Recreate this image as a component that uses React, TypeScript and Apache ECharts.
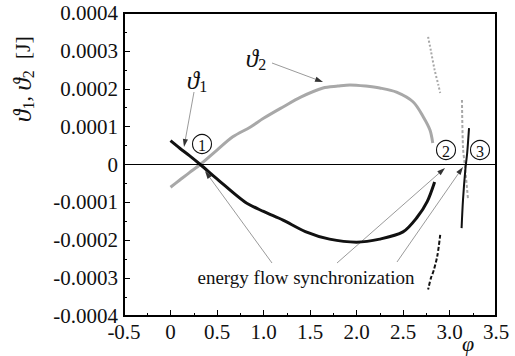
import React, { useEffect, useRef } from "react";
import * as echarts from "echarts";

// ϑ2 main branch (grey)
const phi2 = [0, 0.1, 0.2, 0.32, 0.5, 0.67, 0.86, 1.0, 1.21, 1.4, 1.64, 1.8, 1.93, 2.1, 2.25, 2.43, 2.61, 2.72, 2.79, 2.82];
const theta2 = [-0.00006, -0.000041, -0.000022, 0, 0.000038, 0.000073, 0.000099, 0.000122, 0.000152, 0.000178, 0.000202, 0.000207, 0.00021, 0.000207, 0.000202, 0.000191, 0.000165, 0.000125, 0.000091, 0.000057];
// ϑ1 main branch (black)
const phi1 = [0, 0.1, 0.2, 0.32, 0.5, 0.8, 1.0, 1.21, 1.45, 1.71, 2.0, 2.25, 2.5, 2.65, 2.76, 2.84];
const theta1 = [0.000063, 0.000043, 0.000024, 0, -0.000038, -0.000099, -0.000124, -0.000147, -0.000177, -0.000197, -0.000205, -0.000197, -0.000178, -0.00014, -0.000098, -0.000046];
// side branches
const phi2Upper = [2.77, 2.8, 2.84, 2.88, 2.9];
const theta2Upper = [0.000337, 0.0003, 0.00025, 0.00021, 0.000189];
const phi1Lower = [2.9, 2.87, 2.83, 2.8, 2.77];
const theta1Lower = [-0.000186, -0.00024, -0.00028, -0.0003, -0.00033];
const phi2Vert = [3.134, 3.145, 3.167, 3.2];
const theta2Vert = [0.00017, 0.000046, -0.000007, -0.000094];
const phi1Vert = [3.21, 3.19, 3.17, 3.145, 3.13];
const theta1Vert = [0.000096, 0.00003, -0.000014, -0.000094, -0.000168];

const xTicks = { min: -0.5, max: 3.5, interval: 0.5 };
const yTicks = { min: -0.0004, max: 0.0004, interval: 0.0001 };

const GREY = "#a8a8a8";
const BLACK = "#111111";
const ARROW = "#808080";
const SERIF = "Liberation Serif";

const pairs = (xs: number[], ys: number[]) => xs.map((x, i) => [x, ys[i]]);

function arrow(x1: number, y1: number, x2: number, y2: number, color = ARROW) {
  const dx = x2 - x1, dy = y2 - y1;
  const len = Math.sqrt(dx * dx + dy * dy);
  const ux = dx / len, uy = dy / len;
  const hl = 8, hw = 2.6;
  const bx = x2 - ux * hl, by = y2 - uy * hl;
  return [
    { type: "line", shape: { x1, y1, x2: bx, y2: by }, style: { stroke: color, lineWidth: 0.8 }, silent: true },
    {
      type: "polygon",
      shape: { points: [[x2, y2], [bx - uy * hw, by + ux * hw], [bx + uy * hw, by - ux * hw]] },
      style: { fill: "#333", stroke: "none" },
      silent: true,
    },
  ];
}

function circled(cx: number, cy: number, n: string) {
  return [
    { type: "circle", shape: { cx, cy, r: 9.5 }, style: { fill: "#fff", stroke: "#111", lineWidth: 1.1 }, silent: true },
    {
      type: "text",
      x: cx,
      y: cy + 1,
      style: { text: n, font: `16px ${SERIF}`, fill: "#111", align: "center", verticalAlign: "middle" },
      silent: true,
    },
  ];
}

const symRich = {
  v: { fontFamily: SERIF, fontStyle: "italic", fontSize: 25, fill: "#111" },
  s: { fontFamily: SERIF, fontSize: 16, fill: "#111", padding: [12, 0, 0, 0] },
  n: { fontFamily: SERIF, fontSize: 22, fill: "#111" },
};

export default function App() {
  const ref = useRef<HTMLDivElement>(null);
  useEffect(() => {
    if (!ref.current) return;
    const chart = echarts.init(ref.current, null, { renderer: "svg" });
    const option: any = {
      animation: false,
      backgroundColor: "#fff",
      grid: {
        left: 124,
        top: 13,
        right: 19,
        bottom: 40,
        show: true,
        borderColor: "#000",
        borderWidth: 2,
        outerBoundsMode: "none",
        containLabel: false,
      },
      xAxis: {
        type: "value",
        ...xTicks,
        axisLine: { show: true, onZero: false, lineStyle: { color: "#000", width: 2 } },
        axisTick: { show: true, inside: true, length: 6, lineStyle: { color: "#000" } },
        minorTick: { show: true, splitNumber: 2, length: 3, lineStyle: { color: "#000" } },
        splitLine: { show: false },
        axisLabel: {
          fontFamily: SERIF,
          fontSize: 21,
          lineHeight: 16,
          color: "#111",
          margin: 8,
          formatter: (v: number) => (Math.abs(v) < 1e-9 ? "0" : v.toFixed(1)),
        },
      },
      yAxis: {
        type: "value",
        ...yTicks,
        axisLine: { show: true, onZero: false, lineStyle: { color: "#000", width: 2 } },
        axisTick: { show: true, inside: true, length: 6, lineStyle: { color: "#000" } },
        minorTick: { show: true, splitNumber: 2, length: 3, lineStyle: { color: "#000" } },
        splitLine: { show: false },
        axisLabel: {
          fontFamily: SERIF,
          fontSize: 21,
          lineHeight: 16,
          color: "#111",
          margin: 6,
          formatter: (v: number) => {
            const r = Math.round(v * 1e4) / 1e4;
            return r === 0 ? "0" : r.toFixed(4);
          },
        },
      },
      series: [
        {
          type: "line",
          name: "ϑ2",
          data: pairs(phi2, theta2),
          showSymbol: false,
          smooth: 0.3,
          lineStyle: { color: GREY, width: 3 },
          z: 2,
          markLine: {
            silent: true,
            symbol: "none",
            label: { show: false },
            lineStyle: { color: "#000", width: 1, type: "solid" },
            data: [{ yAxis: 0 }],
          },
        },
        {
          type: "line",
          name: "ϑ1",
          data: pairs(phi1, theta1),
          showSymbol: false,
          smooth: 0.3,
          lineStyle: { color: BLACK, width: 3 },
          z: 3,
        },
        {
          type: "line",
          data: pairs(phi2Upper, theta2Upper),
          showSymbol: false,
          smooth: 0.3,
          lineStyle: { color: GREY, width: 2, type: [2, 2] },
        },
        {
          type: "line",
          data: pairs(phi1Lower, theta1Lower),
          showSymbol: false,
          smooth: 0.3,
          lineStyle: { color: BLACK, width: 2, type: [4, 2] },
        },
        {
          type: "line",
          data: pairs(phi2Vert, theta2Vert),
          showSymbol: false,
          smooth: 0.3,
          lineStyle: { color: GREY, width: 2, type: [3, 2] },
        },
        {
          type: "line",
          data: pairs(phi1Vert, theta1Vert),
          showSymbol: false,
          smooth: 0.3,
          lineStyle: { color: BLACK, width: 2 },
          z: 3,
        },
      ],
      graphic: [
        ...arrow(194, 92, 184, 147),
        ...arrow(272, 63, 323, 82),
        ...arrow(272, 263, 205, 171),
        ...arrow(337, 263, 445, 168),
        ...arrow(397, 262, 463, 167),
        {
          type: "text",
          x: 197,
          y: 80,
          style: { text: "{v|ϑ}{s|1}", rich: symRich, align: "center", verticalAlign: "middle" },
          silent: true,
        },
        {
          type: "text",
          x: 256,
          y: 58,
          style: { text: "{v|ϑ}{s|2}", rich: symRich, align: "center", verticalAlign: "middle" },
          silent: true,
        },
        {
          type: "text",
          x: 22,
          y: 79,
          rotation: Math.PI / 2,
          style: {
            text: "{v|ϑ}{s|1}{n|, }{v|ϑ}{s|2}{n|  [J]}",
            rich: symRich,
            align: "center",
            verticalAlign: "middle",
          },
          silent: true,
        },
        {
          type: "text",
          x: 468,
          y: 343,
          style: {
            text: "φ",
            font: `italic 22px ${SERIF}`,
            fill: "#111",
            align: "center",
            verticalAlign: "middle",
          },
          silent: true,
        },
        ...circled(202, 144, "1"),
        ...circled(446, 150, "2"),
        ...circled(480, 150, "3"),
        {
          type: "text",
          x: 306,
          y: 277,
          style: {
            text: "energy flow synchronization",
            font: `19px ${SERIF}`,
            fill: "#111",
            align: "center",
            verticalAlign: "middle",
          },
          silent: true,
        },
      ],
    };
    chart.setOption(option);
    return () => chart.dispose();
  }, []);
  return <div ref={ref} style={{ position: "fixed", left: 0, top: 0, width: 515, height: 356 }} />;
}
